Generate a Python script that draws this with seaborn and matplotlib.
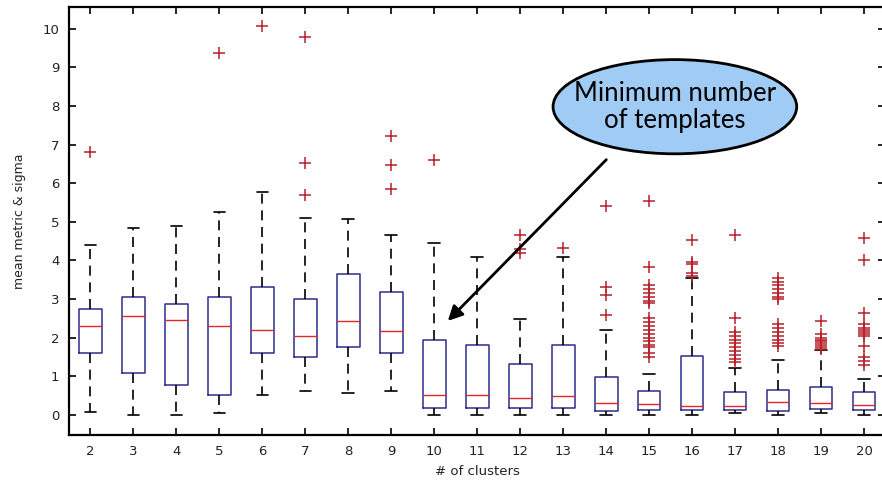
import numpy as np
import pandas as pd
import seaborn as sns
import matplotlib
matplotlib.use("Agg")
import matplotlib.pyplot as plt
from matplotlib.patches import Ellipse

sns.set_style("ticks")

# number of clusters on the x axis
clusters = list(range(2, 21))

# box statistics
whisker_low = [0.07, 0.0, 0.0, 0.04, 0.52, 0.62, 0.56, 0.62, 0.0, 0.0,
               0.0, 0.0, 0.0, 0.0, 0.0, 0.04, 0.0, 0.04, 0.0]
q1 = [1.60, 1.08, 0.78, 0.52, 1.60, 1.49, 1.75, 1.60, 0.17, 0.17,
      0.17, 0.17, 0.10, 0.13, 0.13, 0.13, 0.10, 0.16, 0.13]
median = [2.31, 2.56, 2.46, 2.31, 2.20, 2.05, 2.44, 2.18, 0.52, 0.52,
          0.43, 0.49, 0.30, 0.28, 0.22, 0.22, 0.33, 0.30, 0.26]
q3 = [2.75, 3.05, 2.86, 3.05, 3.31, 3.01, 3.65, 3.17, 1.94, 1.81,
      1.32, 1.81, 0.97, 0.62, 1.53, 0.58, 0.65, 0.73, 0.58]
whisker_high = [4.40, 4.85, 4.90, 5.25, 5.78, 5.10, 5.08, 4.66, 4.45, 4.10,
                2.48, 4.09, 2.20, 1.06, 3.55, 1.21, 1.42, 1.68, 0.92]

# outliers per cluster count
outliers = {
    2: [6.80],
    5: [9.36],
    6: [10.08],
    7: [9.78, 6.52, 5.70],
    9: [7.23, 6.48, 5.85],
    10: [6.60],
    12: [4.66, 4.30, 4.19],
    13: [4.32],
    14: [5.42, 3.32, 3.11, 2.59],
    15: [5.54, 3.83, 3.35, 3.25, 3.15, 3.05, 2.95, 2.90, 2.50, 2.40, 2.30,
         2.20, 2.10, 2.00, 1.90, 1.80, 1.75, 1.60, 1.50],
    16: [4.52, 3.97, 3.90, 3.67, 3.60],
    17: [4.66, 2.50, 2.15, 2.05, 1.95, 1.85, 1.75, 1.65, 1.55, 1.45, 1.38],
    18: [3.55, 3.45, 3.35, 3.25, 3.15, 3.05, 3.00, 2.35, 2.25, 2.15, 2.05,
         1.95, 1.85, 1.78],
    19: [2.44, 2.10, 2.00, 1.95, 1.90, 1.85, 1.80, 1.75, 1.70],
    20: [4.58, 4.02, 2.63, 2.35, 2.25, 2.20, 2.15, 2.10, 2.05, 1.77, 1.50,
         1.40, 1.30],
}

fig = plt.figure(figsize=(8.82, 4.8), dpi=100)
ax = fig.add_axes([0.0782, 0.094, 0.9257, 0.892])

stats = []
for i, c in enumerate(clusters):
    stats.append(dict(whislo=whisker_low[i], q1=q1[i], med=median[i],
                      q3=q3[i], whishi=whisker_high[i], fliers=[]))

ax.bxp(stats, positions=clusters, widths=0.53, showfliers=False,
       boxprops=dict(color="#2e2e8c", linewidth=1.1),
       medianprops=dict(color="#e02828", linewidth=1.0),
       whiskerprops=dict(color="black", linewidth=1.2, linestyle=(0, (6, 4))),
       capprops=dict(color="black", linewidth=1.2), capwidths=0.27)

out_df = pd.DataFrame([(c, v) for c, vals in outliers.items() for v in vals],
                      columns=["clusters", "value"])
sns.scatterplot(data=out_df, x="clusters", y="value", marker="+", s=70,
                color="#b8202a", linewidth=1.1, ax=ax, zorder=3)

ax.set_xlim(1.5, 20.5)
ax.set_ylim(-0.52, 10.57)
ax.set_xticks(clusters)
ax.set_xticklabels([str(c) for c in clusters])
ax.set_yticks(range(0, 11))
ax.tick_params(direction="in", length=5, width=1.2, top=True, right=True,
               labelsize=9.5, pad=7, colors="black", labelcolor="#222222")
for s in ax.spines.values():
    s.set_linewidth(1.6)
    s.set_visible(True)
    s.set_color("black")

ax.set_xlabel("# of clusters", fontsize=9.5, labelpad=5, color="#222222")
ax.set_ylabel("mean metric & sigma", fontsize=9, color="#222222",
              family=["Liberation Sans Narrow", "DejaVu Sans"], labelpad=12)

# callout
ell = Ellipse((15.6, 7.98), 5.67, 2.44, facecolor="#9fcbf5",
              edgecolor="black", linewidth=2, zorder=5, clip_on=False)
ax.add_patch(ell)
ax.text(15.6, 7.98, "Minimum number\nof templates", ha="center", va="center",
        fontsize=18.5, family=["Lato", "DejaVu Sans"], linespacing=1.1,
        color="black", zorder=6)
ax.annotate("", xy=(10.27, 2.38), xytext=(14.05, 6.66),
            arrowprops=dict(arrowstyle="-|>", color="black", lw=2,
                            mutation_scale=22), zorder=6)

fig.savefig("out.png", dpi=100)
